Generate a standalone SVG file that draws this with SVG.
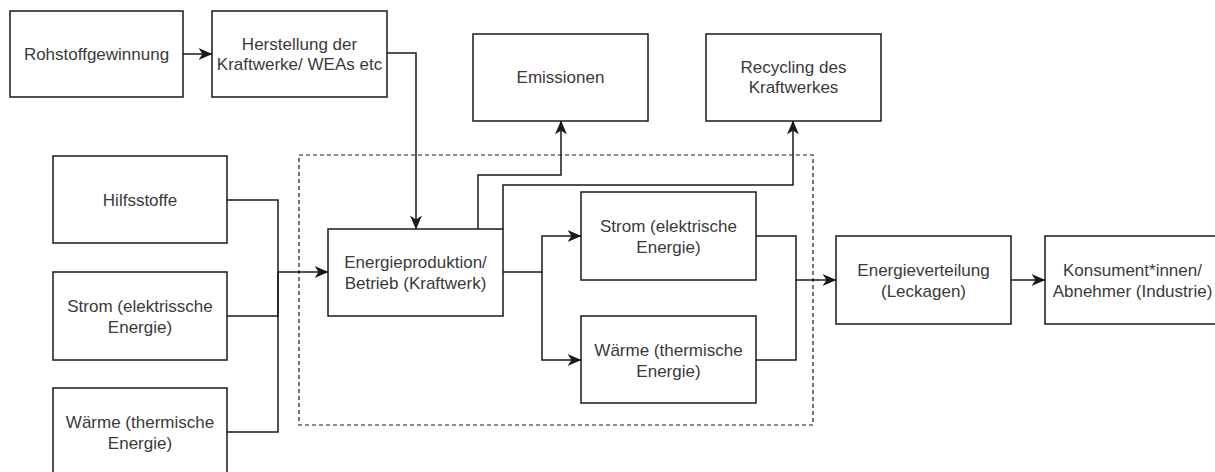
<svg xmlns="http://www.w3.org/2000/svg" width="1215" height="472" viewBox="0 0 1215 472">
<style>
.box{fill:#fff;stroke:#1a1a1a;stroke-width:1.5}
.t{font-family:"Liberation Sans",Arial,sans-serif;font-size:17px;fill:#3a3a3a;text-anchor:middle}
.c{fill:none;stroke:#1a1a1a;stroke-width:1.5}
.a{marker-end:url(#arr)}
.dash{fill:none;stroke:#1a1a1a;stroke-width:1.2;stroke-dasharray:4 3}
</style>
<defs>
<marker id="arr" markerUnits="userSpaceOnUse" markerWidth="14" markerHeight="13" viewBox="0 0 14 13" refX="13.5" refY="6.5" orient="auto">
<path d="M0,0.5 L14,6.5 L0,12.5 L4,6.5 z" fill="#1a1a1a"/>
</marker>
</defs>
<rect x="0" y="0" width="1215" height="472" fill="#fff"/>
<rect class="dash" x="299" y="155" width="514" height="270"/>
<g id="connectors">
<path class="c a" d="M183,54 L212,54"/>
<path class="c a" d="M387,53 L416,53 L416,229"/>
<path class="c a" d="M227,200 L278,200 L278,272 L328,272"/>
<path class="c" d="M227,316 L278,316 L278,272"/>
<path class="c" d="M227,432 L278,432 L278,272"/>
<path class="c a" d="M478,229 L478,175 L561,175 L561,121"/>
<path class="c a" d="M503,229 L503,185 L793,185 L793,121"/>
<path class="c a" d="M503,272 L542,272 L542,236 L581,236"/>
<path class="c a" d="M542,272 L542,360 L581,360"/>
<path class="c a" d="M756,236 L796,236 L796,280 L836,280"/>
<path class="c" d="M756,360 L796,360 L796,280"/>
<path class="c a" d="M1011,280 L1045,280"/>
</g>
<g id="rohstoff"><rect class="box" x="10" y="11" width="173" height="86"/><text class="t" x="96.5" y="60">Rohstoffgewinnung</text></g>
<g id="herstellung"><rect class="box" x="212" y="11" width="175" height="86"/><text class="t" x="299.5" y="50">Herstellung der</text><text class="t" x="299.5" y="70">Kraftwerke/ WEAs etc</text></g>
<g id="emissionen"><rect class="box" x="473" y="34" width="175" height="87"/><text class="t" x="560.5" y="83">Emissionen</text></g>
<g id="recycling"><rect class="box" x="706" y="34" width="175" height="87"/><text class="t" x="793.5" y="73">Recycling des</text><text class="t" x="793.5" y="93">Kraftwerkes</text></g>
<g id="hilfsstoffe"><rect class="box" x="53" y="156" width="174" height="87"/><text class="t" x="140" y="206">Hilfsstoffe</text></g>
<g id="strom-in"><rect class="box" x="53" y="272" width="174" height="88"/><text class="t" x="140" y="312">Strom (elektrissche</text><text class="t" x="140" y="333">Energie)</text></g>
<g id="waerme-in"><rect class="box" x="53" y="388" width="174" height="88"/><text class="t" x="140" y="428">Wärme (thermische</text><text class="t" x="140" y="449">Energie)</text></g>
<g id="energieproduktion"><rect class="box" x="328" y="229" width="175" height="87"/><text class="t" x="415.5" y="268">Energieproduktion/</text><text class="t" x="415.5" y="289">Betrieb (Kraftwerk)</text></g>
<g id="strom-out"><rect class="box" x="581" y="192" width="175" height="88"/><text class="t" x="668.5" y="232">Strom (elektrische</text><text class="t" x="668.5" y="253">Energie)</text></g>
<g id="waerme-out"><rect class="box" x="581" y="316" width="175" height="87"/><text class="t" x="668.5" y="356">Wärme (thermische</text><text class="t" x="668.5" y="377">Energie)</text></g>
<g id="verteilung"><rect class="box" x="836" y="236" width="175" height="88"/><text class="t" x="923.5" y="276">Energieverteilung</text><text class="t" x="923.5" y="297">(Leckagen)</text></g>
<g id="konsument"><rect class="box" x="1045" y="236" width="175" height="88"/><text class="t" x="1132.5" y="276">Konsument*innen/</text><text class="t" x="1132.5" y="297">Abnehmer (Industrie)</text></g>
</svg>
